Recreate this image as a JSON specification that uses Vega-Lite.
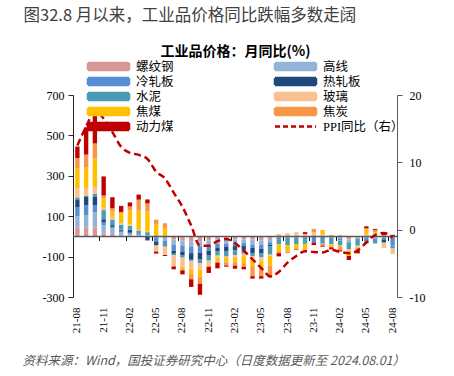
{
 "$schema": "https://vega.github.io/schema/vega-lite/v6.json",
 "width": 324,
 "height": 202,
 "autosize": {"type": "none"},
 "padding": {"left": 73, "top": 95, "right": 57, "bottom": 79},
 "background": "white",
 "config": {"view": {"stroke": null}, "axis": {"grid": false}},
 "data": {"values": [
  {"m":"21-08","螺纹钢":45,"高线":55,"冷轧板":45,"热轧板":35,"水泥":13,"玻璃":45,"焦煤":100,"焦炭":50,"动力煤":57,"ppi":12.5},
  {"m":"21-09","螺纹钢":45,"高线":60,"冷轧板":50,"热轧板":40,"水泥":5,"玻璃":40,"焦煤":100,"焦炭":65,"动力煤":135,"ppi":15.3},
  {"m":"21-10","螺纹钢":45,"高线":75,"冷轧板":35,"热轧板":40,"水泥":15,"玻璃":35,"焦煤":140,"焦炭":75,"动力煤":165,"ppi":17.6},
  {"m":"21-11","螺纹钢":15,"高线":40,"冷轧板":15,"热轧板":15,"水泥":45,"玻璃":12,"焦煤":45,"焦炭":15,"动力煤":95,"ppi":16.5},
  {"m":"21-12","螺纹钢":12,"高线":28,"冷轧板":8,"热轧板":8,"水泥":28,"玻璃":13,"焦煤":25,"焦炭":17,"动力煤":55,"ppi":14.5},
  {"m":"22-01","螺纹钢":5,"高线":15,"冷轧板":8,"热轧板":5,"水泥":25,"玻璃":8,"焦煤":50,"焦炭":5,"动力煤":30,"ppi":12.3},
  {"m":"22-02","螺纹钢":5,"高线":8,"冷轧板":5,"热轧板":15,"水泥":20,"玻璃":5,"焦煤":70,"焦炭":20,"动力煤":20,"ppi":11.4},
  {"m":"22-03","螺纹钢":3,"高线":5,"冷轧板":3,"热轧板":3,"水泥":15,"玻璃":3,"焦煤":95,"焦炭":55,"动力煤":25,"ppi":11.1},
  {"m":"22-04","螺纹钢":3,"高线":3,"冷轧板":0,"热轧板":-20,"水泥":15,"玻璃":2,"焦煤":100,"焦炭":40,"动力煤":20,"ppi":10.5},
  {"m":"22-05","螺纹钢":0,"高线":-5,"冷轧板":-20,"热轧板":-20,"水泥":0,"玻璃":-30,"焦煤":60,"焦炭":23,"动力煤":-10,"ppi":8.6},
  {"m":"22-06","螺纹钢":0,"高线":-20,"冷轧板":-25,"热轧板":-5,"水泥":0,"玻璃":-42,"焦煤":38,"焦炭":27,"动力煤":-5,"ppi":7.6},
  {"m":"22-07","螺纹钢":-16,"高线":-25,"冷轧板":-30,"热轧板":-15,"水泥":-8,"玻璃":-55,"焦煤":0,"焦炭":0,"动力煤":-14,"ppi":5.5},
  {"m":"22-08","螺纹钢":-20,"高线":-25,"冷轧板":-30,"热轧板":-20,"水泥":-10,"玻璃":-45,"焦煤":-16,"焦炭":-2,"动力煤":-20,"ppi":3.4},
  {"m":"22-09","螺纹钢":-25,"高线":-25,"冷轧板":-33,"热轧板":-33,"水泥":-5,"玻璃":-41,"焦煤":-25,"焦炭":-25,"动力煤":-38,"ppi":0.6},
  {"m":"22-10","螺纹钢":-25,"高线":-25,"冷轧板":-30,"热轧板":-35,"水泥":-17,"玻璃":-33,"焦煤":-33,"焦炭":-36,"动力煤":-55,"ppi":-2.4},
  {"m":"22-11","螺纹钢":-20,"高线":-25,"冷轧板":-25,"热轧板":-25,"水泥":-25,"玻璃":-25,"焦煤":-5,"焦炭":0,"动力煤":-31,"ppi":-2.4},
  {"m":"22-12","螺纹钢":-15,"高线":-20,"冷轧板":-20,"热轧板":-20,"水泥":-20,"玻璃":-10,"焦煤":-20,"焦炭":-5,"动力煤":-28,"ppi":-1.7},
  {"m":"23-01","螺纹钢":-16,"高线":-20,"冷轧板":-16,"热轧板":-20,"水泥":-28,"玻璃":-3,"焦煤":-25,"焦炭":-16,"动力煤":-6,"ppi":-1.4},
  {"m":"23-02","螺纹钢":-15,"高线":-18,"冷轧板":-15,"热轧板":-20,"水泥":-25,"玻璃":-10,"焦煤":-25,"焦炭":-17,"动力煤":-15,"ppi":-2.0},
  {"m":"23-03","螺纹钢":-15,"高线":-18,"冷轧板":-15,"热轧板":-18,"水泥":-20,"玻璃":-12,"焦煤":-35,"焦炭":-18,"动力煤":-12,"ppi":-3.1},
  {"m":"23-04","螺纹钢":-16,"高线":-25,"冷轧板":-16,"热轧板":-25,"水泥":-16,"玻璃":-16,"焦煤":-33,"焦炭":-50,"动力煤":-12,"ppi":-4.4},
  {"m":"23-05","螺纹钢":-20,"高线":-21,"冷轧板":-21,"热轧板":-20,"水泥":-20,"玻璃":-21,"焦煤":-33,"焦炭":-41,"动力煤":-12,"ppi":-5.7},
  {"m":"23-06","螺纹钢":-13,"高线":-16,"冷轧板":-12,"热轧板":-8,"水泥":-41,"玻璃":-5,"焦煤":-50,"焦炭":-50,"动力煤":-8,"ppi":-6.9},
  {"m":"23-07","螺纹钢":0,"高线":-5,"冷轧板":-5,"热轧板":-5,"水泥":-25,"玻璃":13,"焦煤":-33,"焦炭":-10,"动力煤":-16,"ppi":-6.3},
  {"m":"23-08","螺纹钢":0,"高线":-3,"冷轧板":-3,"热轧板":0,"水泥":-38,"玻璃":16,"焦煤":-33,"焦炭":-6,"动力煤":0,"ppi":-4.9},
  {"m":"23-09","螺纹钢":0,"高线":-5,"冷轧板":-8,"热轧板":0,"水泥":-25,"玻璃":21,"焦煤":-25,"焦炭":0,"动力煤":-3,"ppi":-3.9},
  {"m":"23-10","螺纹钢":0,"高线":-5,"冷轧板":-5,"热轧板":-5,"水泥":-22,"玻璃":12,"焦煤":-25,"焦炭":-4,"动力煤":9,"ppi":-3.2},
  {"m":"23-11","螺纹钢":-2,"高线":0,"冷轧板":-28,"热轧板":0,"水泥":0,"玻璃":20,"焦煤":0,"焦炭":17,"动力煤":-13,"ppi":-3.3},
  {"m":"23-12","螺纹钢":0,"高线":-3,"冷轧板":0,"热轧板":0,"水泥":-33,"玻璃":12,"焦煤":20,"焦炭":-10,"动力煤":-5,"ppi":-3.4},
  {"m":"24-01","螺纹钢":0,"高线":-8,"冷轧板":-5,"热轧板":0,"水泥":-25,"玻璃":8,"焦煤":-16,"焦炭":0,"动力煤":-10,"ppi":-3.0},
  {"m":"24-02","螺纹钢":0,"高线":-10,"冷轧板":-10,"热轧板":0,"水泥":-25,"玻璃":8,"焦煤":-8,"焦炭":-16,"动力煤":-5,"ppi":-3.3},
  {"m":"24-03","螺纹钢":-16,"高线":-10,"冷轧板":-5,"热轧板":0,"水泥":-33,"玻璃":-8,"焦煤":-25,"焦炭":0,"动力煤":-20,"ppi":-3.5},
  {"m":"24-04","螺纹钢":-5,"高线":-8,"冷轧板":0,"热轧板":0,"水泥":-33,"玻璃":-5,"焦煤":-4,"焦炭":-16,"动力煤":-13,"ppi":-3.1},
  {"m":"24-05","螺纹钢":5,"高线":-8,"冷轧板":-10,"热轧板":0,"水泥":-17,"玻璃":5,"焦煤":25,"焦炭":5,"动力煤":10,"ppi":-1.9},
  {"m":"24-06","螺纹钢":0,"高线":-10,"冷轧板":0,"热轧板":0,"水泥":-25,"玻璃":5,"焦煤":15,"焦炭":12,"动力煤":5,"ppi":-0.8},
  {"m":"24-07","螺纹钢":0,"高线":-5,"冷轧板":-10,"热轧板":-13,"水泥":-4,"玻璃":-25,"焦煤":0,"焦炭":7,"动力煤":10,"ppi":-0.5},
  {"m":"24-08","螺纹钢":0,"高线":-5,"冷轧板":-40,"热轧板":0,"水泥":-15,"玻璃":-27,"焦煤":0,"焦炭":0,"动力煤":8,"ppi":-1.2}
 ]},
 "layer": [
  {
   "layer": [
    {
     "transform": [
      {"fold": ["螺纹钢","高线","冷轧板","热轧板","水泥","玻璃","焦煤","焦炭","动力煤"], "as": ["s","v"]},
      {"calculate": "indexof(['螺纹钢','高线','冷轧板','热轧板','水泥','玻璃','焦煤','焦炭','动力煤'], datum.s)", "as": "k"}
     ],
     "mark": {"type": "bar"},
     "encoding": {
      "x": {"field": "m", "type": "ordinal", "sort": null,
        "scale": {"paddingInner": 0.5, "paddingOuter": 0.25},
        "axis": {"orient": "bottom", "offset": 54, "domain": false,
          "ticks": false, "labelAngle": -90, "labelAlign": "right", "labelBaseline": "middle",
          "labelPadding": -44, "labelFont": "Liberation Serif", "labelFontSize": 11, "labelColor": "#000", "labelOverlap": false,
          "values": ["21-08","21-11","22-02","22-05","22-08","22-11","23-02","23-05","23-08","23-11","24-02","24-05","24-08"],
          "title": "资料来源：Wind，国投证券研究中心（日度数据更新至 2024.08.01）",
          "titleX": -51, "titleY": 9, "titleAlign": "left", "titleAnchor": "start", "titleAngle": 0, "titleBaseline": "middle",
          "titleFont": "Noto Sans CJK SC", "titleFontStyle": "italic", "titleFontWeight": "normal", "titleFontSize": 12.5, "titleColor": "#595959"}},
      "y": {"field": "v", "type": "quantitative", "stack": "zero",
        "scale": {"domain": [-300, 700], "nice": false, "zero": false},
        "axis": {"orient": "left", "values": [-300,-200,-100,0,100,200,300,400,500,600,700],
          "domain": true, "domainColor": "#262626", "ticks": true, "tickSize": 5, "tickColor": "#262626",
          "labelFont": "Liberation Serif", "labelFontSize": 12, "labelColor": "#000", "labelPadding": 4,
          "labelExpr": "datum.value < 0 ? '-' + abs(datum.value) : '' + datum.value",
          "title": "工业品价格：月同比(%)", "titleAngle": 0, "titleX": 162, "titleY": -44,
          "titleAlign": "center", "titleBaseline": "middle", "titleFont": "Noto Sans CJK SC",
          "titleFontSize": 14, "titleFontWeight": "bold", "titleColor": "#000"}},
      "color": {"field": "s", "type": "nominal",
        "scale": {"domain": ["螺纹钢","高线","冷轧板","热轧板","水泥","玻璃","焦煤","焦炭","动力煤","PPI同比（右）"],
                  "range": ["#d99694","#95b3d7","#558ed5","#1f497d","#4a9cb4","#fac090","#ffc000","#f79646","#c00000","#c00000"]},
        "legend": {"orient": "none", "direction": "horizontal", "legendX": 15, "legendY": -35, "columns": 2,
          "gridAlign": "all", "columnPadding": 53, "rowPadding": -2.8,
          "padding": 0, "title": null, "symbolSize": 100, "symbolStrokeWidth": 2.5,
          "symbolType": "M-4.1,-0.7H4.1V0.7H-4.1Z", "symbolOffset": 14,
          "labelFont": "Liberation Serif, Noto Sans CJK SC", "labelFontSize": 12.5, "labelColor": "#000",
          "labelOffset": 21, "labelLimit": 0,
          "encode": {"symbols": {"update": {
            "shape": [{"test": "datum.value === 'PPI同比（右）'", "value": "M-4.1,0H4.1"}, {"value": "M-4.1,-0.7H4.1V0.7H-4.1Z"}],
            "fill": [{"test": "datum.value === 'PPI同比（右）'", "value": "transparent"}, {"scale": "color", "field": "value"}],
            "stroke": [{"test": "datum.value === 'PPI同比（右）'", "value": "#c00000"}, {"value": "transparent"}],
            "strokeDash": [{"test": "datum.value === 'PPI同比（右）'", "value": [5, 3]}, {"value": [1, 0]}],
            "opacity": {"value": 1}
          }}}}},
      "order": {"field": "k", "type": "quantitative"}
     }
    },
    {
     "data": {"values": [{"z": 0}]},
     "mark": {"type": "rule", "color": "#595959", "strokeWidth": 1.5},
     "encoding": {"y": {"datum": 0}}
    }
   ]
  },
  {
   "mark": {"type": "line", "strokeDash": [7, 4], "strokeWidth": 2.5, "interpolate": "monotone"},
   "encoding": {
    "x": {"field": "m", "type": "ordinal", "sort": null,
      "axis": {"orient": "bottom", "offset": -60.6, "domain": false,
        "ticks": true, "tickSize": 4, "tickColor": "#000", "tickWidth": 1,
        "bandPosition": 1, "tickOffset": 2.2, "tickExtra": false, "labels": false, "title": null,
        "values": ["21-10","22-01","22-04","22-07","22-10","23-01","23-04","23-07","23-10","24-01","24-04","24-07"]}},
    "y": {"field": "ppi", "type": "quantitative",
      "scale": {"domain": [-10, 20], "nice": false, "zero": false},
      "axis": {"orient": "right", "values": [-10, 0, 10, 20], "domain": true, "domainColor": "#595959",
        "ticks": true, "tickSize": 5, "tickColor": "#595959",
        "labelFont": "Liberation Serif", "labelFontSize": 12, "labelColor": "#000", "labelPadding": 7,
        "labelExpr": "datum.value < 0 ? '-' + abs(datum.value) : '' + datum.value",
        "title": "图32.8 月以来，工业品价格同比跌幅多数走阔",
        "titleX": -374, "titleY": -80, "titleAlign": "left", "titleAnchor": "start", "titleAngle": 0, "titleBaseline": "middle",
        "titleFont": "Noto Sans CJK SC", "titleFontSize": 16.5, "titleFontWeight": "normal", "titleColor": "#404040"}},
    "color": {"datum": "PPI同比（右）", "type": "nominal"}
   }
  }
 ],
 "resolve": {"scale": {"y": "independent"}, "axis": {"x": "independent"}}
}
